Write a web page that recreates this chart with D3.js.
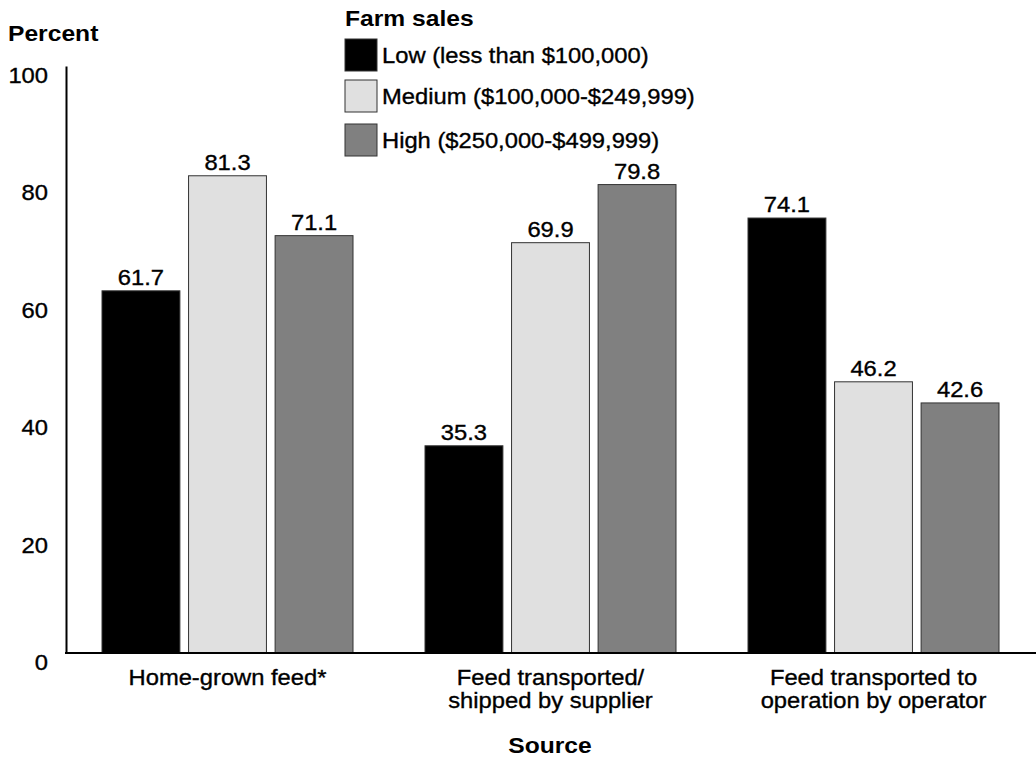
<!DOCTYPE html>
<html><head><meta charset="utf-8">
<script src="https://cdn.jsdelivr.net/npm/d3@7"></script>
<style>body{margin:0;background:#fff}svg{display:block;font-family:Arial,"Liberation Sans",sans-serif}</style>
</head><body><svg id="c" width="1036" height="760"></svg>
<script>
const categories = [["Home-grown feed*"], ["Feed transported/", "shipped by supplier"], ["Feed transported to", "operation by operator"]];
const seriesNames = ["Low (less than $100,000)", "Medium ($100,000-$249,999)", "High ($250,000-$499,999)"];
const lowValues = [61.7, 35.3, 74.1];
const mediumValues = [81.3, 69.9, 46.2];
const highValues = [71.1, 79.8, 42.6];
const yTicks = [0, 20, 40, 60, 80, 100];
const colors = ["#000000", "#e0e0e0", "#808080"];

const svg = d3.select("#c");
const FS = 22, SX = 1.08, SXB = 1.12;
function txt(x, y, s, anchor, bold) {
  const t = svg.append("text")
    .attr("transform", `translate(${x},${y}) scale(${bold ? SXB : SX},1)`)
    .attr("text-anchor", anchor || "start")
    .attr("font-size", FS)
    .attr("font-weight", bold ? "bold" : "normal")
    .attr("fill", "#000")
    .text(s);
  if (!bold) t.attr("stroke", "#000").attr("stroke-width", 0.35);
  return t;
}

const series = [lowValues, mediumValues, highValues];
const catIdx = categories.map((d, i) => i);
const x0 = d3.scaleBand().domain(catIdx).range([66, 1035]);
const x1 = d3.scaleBand().domain([0, 1, 2]).range([36, 287]).paddingInner(0.1);
const y = d3.scaleLinear().domain([0, 100]).range([653, 66]);

// bars
catIdx.forEach(ci => {
  series.forEach((vals, si) => {
    const v = vals[ci];
    const bx = x0(ci) + x1(si);
    svg.append("rect").attr("x", bx).attr("y", y(v)).attr("width", x1.bandwidth())
      .attr("height", y(0) - y(v)).attr("fill", colors[si]).attr("stroke", "#333").attr("stroke-width", 1);
    txt(bx + x1.bandwidth() / 2, y(v) - 6, v.toFixed(1), "middle");
  });
});

// y axis
const yAxis = d3.axisLeft(y).tickValues(yTicks).tickSize(0).tickFormat("");
const gy = svg.append("g").attr("transform", "translate(66,0)").call(yAxis);
gy.select(".domain").attr("stroke", "#000").attr("stroke-width", 2);
yTicks.forEach(t => txt(48, y(t) + 17, String(t), "end"));

// x axis
svg.append("line").attr("x1", 65).attr("x2", 1036).attr("y1", y(0)).attr("y2", y(0)).attr("stroke", "#000").attr("stroke-width", 2);
catIdx.forEach(ci => {
  categories[ci].forEach((line, li) => {
    txt(x0(ci) + x0.bandwidth() / 2, 685 + li * 23, line, "middle");
  });
});

txt(550, 753, "Source", "middle", true);
txt(8, 41, "Percent", "start", true);

// legend
txt(345, 26, "Farm sales", "start", true);
const legY = [39, 80, 124];
seriesNames.forEach((n, i) => {
  svg.append("rect").attr("x", 345).attr("y", legY[i]).attr("width", 32).attr("height", 32)
    .attr("fill", colors[i]).attr("stroke", "#333").attr("stroke-width", 1);
  txt(382, legY[i] + 24, n, "start");
});
</script></body></html>
